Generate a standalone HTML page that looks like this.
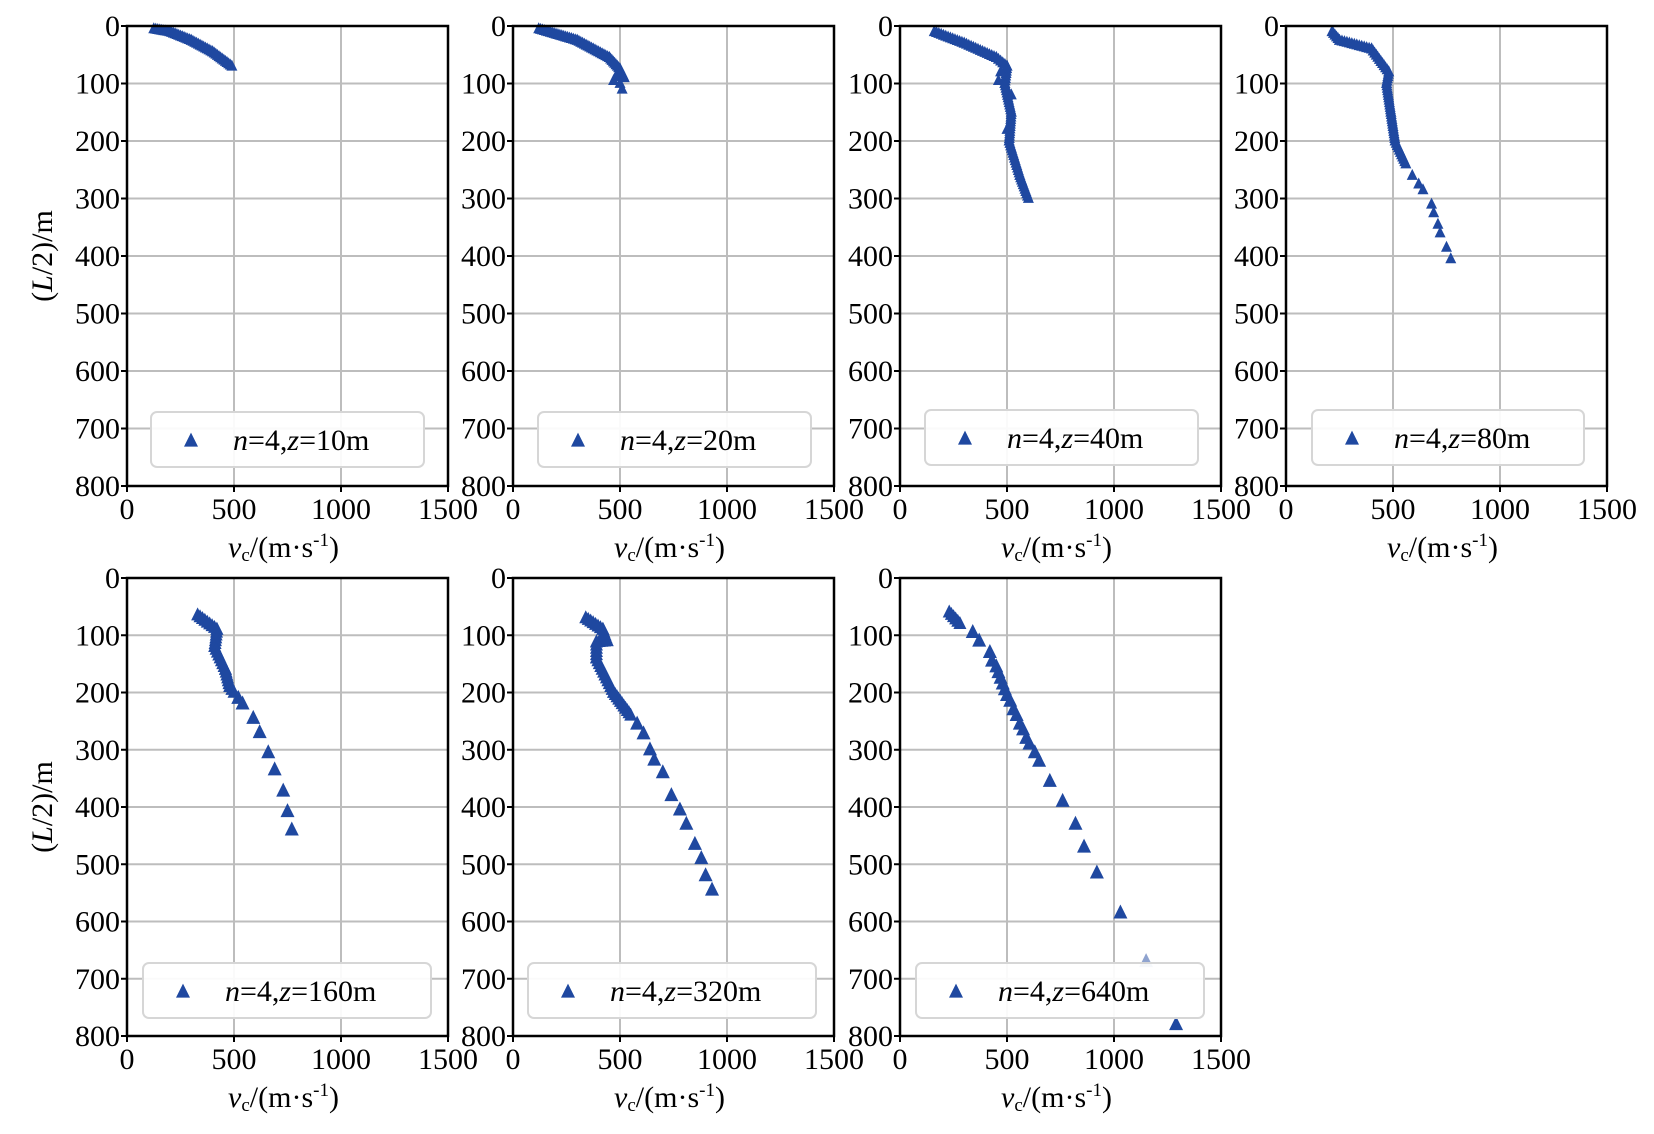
<!DOCTYPE html>
<html><head><meta charset="utf-8"><style>
html,body{margin:0;padding:0;background:#fff}
svg{display:block}
text{font-family:"Liberation Serif",serif;fill:#000}
</style></head><body>
<svg id="s" width="1654" height="1134" xmlns="http://www.w3.org/2000/svg"></svg>
<script>
const S=document.getElementById('s');let h='';
const T=26,TH=460,B=578,BH=458;
const panels=[
 {x:127,y:T,h:TH,z:'10m',lg:[151,412,273],pts:[[[125,5],[200,10],[300,25],[400,45],[490,70]],2]},
 {x:513,y:T,h:TH,z:'20m',lg:[538,412,273],pts:[[[120,5],[300,25],[450,55],[500,75],[520,90]],2],extra:[[480,88],[500,100],[510,110],[470,95]]},
 {x:900,y:T,h:TH,z:'40m',lg:[925,410,273],pts:[[[160,10],[300,30],[450,55],[500,70],[490,100],[520,150],[510,200],[560,260],[600,300]],2.5],extra:[[470,80],[460,95],[520,120],[500,180]]},
 {x:1286,y:T,h:TH,z:'80m',lg:[1312,410,272],pts:[[[215,10],[250,25],[400,40],[480,80],[470,100],[490,150],[510,200],[560,240]],2.5],extra:[[590,260],[620,275],[640,285],[680,310],[690,325],[710,345],[720,360],[750,385],[770,405]]},
 {x:127,y:B,h:BH,z:'160m',lg:[143,963,288],pts:[[[330,65],[420,90],[410,120],[460,160],[480,190],[500,200]],3],extra:[[520,210],[540,220],[590,245],[620,270],[660,305],[690,335],[730,372],[750,408],[770,440]]},
 {x:513,y:B,h:BH,z:'320m',lg:[528,963,288],pts:[[[340,70],[420,90],[440,110],[390,112],[390,140],[430,170],[470,200],[550,240]],3],extra:[[580,255],[610,272],[640,300],[660,318],[700,340],[740,380],[780,405],[810,430],[850,465],[880,490],[900,520],[930,545]]},
 {x:900,y:B,h:BH,z:'640m',lg:[916,963,288],pts:[[[230,60],[280,80]],3],extra:[[340,95],[370,110],[420,130],[430,145],[450,155],[460,165],[470,175],[480,185],[490,195],[500,205],[515,215],[530,230],[545,240],[560,255],[575,265],[590,280],[605,290],[630,305],[650,320],[700,355],[760,390],[820,430],[860,470],[920,515],[1030,585],[1150,670],[1290,780]]}
];
const W=321;
function tri(cx,cy,s,c){return `<polygon points="${cx},${cy-s*0.6} ${cx-s/2},${cy+s*0.4} ${cx+s/2},${cy+s*0.4}" fill="${c||'#1f48a0'}"/>`;}
panels.forEach((p,i)=>{
 const X=v=>p.x+v/1500*W, Y=l=>p.y+l/800*p.h;
 for(let k=1;k<8;k++){const y=Y(k*100);h+=`<line x1="${p.x}" x2="${p.x+W}" y1="${y}" y2="${y}" stroke="#bdbdbd" stroke-width="2"/>`;}
 for(let k=1;k<3;k++){const x=X(k*500);h+=`<line y1="${p.y}" y2="${p.y+p.h}" x1="${x}" x2="${x}" stroke="#bdbdbd" stroke-width="2"/>`;}
 const big=i>=4?13:11;
 const [poly,step]=p.pts;
 for(let j=0;j<poly.length-1;j++){
  const a=[X(poly[j][0]),Y(poly[j][1])],b=[X(poly[j+1][0]),Y(poly[j+1][1])];
  const d=Math.hypot(b[0]-a[0],b[1]-a[1]),n=Math.max(1,Math.round(d/step));
  for(let t=0;t<=n;t++)h+=tri(a[0]+(b[0]-a[0])*t/n,a[1]+(b[1]-a[1])*t/n,big);
 }
 (p.extra||[]).forEach(e=>{h+=tri(X(e[0]),Y(e[1]),big+(i>=4?1:0),(i==6&&e[0]==1150)?'#8fa3cf':null);});
 const [lx,ly,lw]=p.lg;
 h+=`<rect x="${lx}" y="${ly}" width="${lw}" height="55" rx="6" fill="#fff" fill-opacity="0.92" stroke="#d6d6d6" stroke-width="2"/>`;
 h+=tri(lx+40,ly+29,14);
 h+=`<text x="${lx+82}" y="${ly+38}" font-size="30"><tspan font-style="italic">n</tspan>=4,<tspan font-style="italic">z</tspan>=${p.z}</text>`;
 h+=`<rect x="${p.x}" y="${p.y}" width="${W}" height="${p.h}" fill="none" stroke="#000" stroke-width="2.5"/>`;
 for(let k=0;k<=8;k++){const y=Y(k*100);h+=`<line x1="${p.x-6}" x2="${p.x}" y1="${y}" y2="${y}" stroke="#000" stroke-width="2"/><text x="${p.x-7}" y="${y+10}" font-size="30" text-anchor="end">${k*100}</text>`;}
 for(let k=0;k<=3;k++){const x=X(k*500);h+=`<line y1="${p.y+p.h}" y2="${p.y+p.h+6}" x1="${x}" x2="${x}" stroke="#000" stroke-width="2"/><text x="${x}" y="${p.y+p.h+33}" font-size="30" text-anchor="middle">${k*500}</text>`;}
 const cx=p.x+W/2;
 h+=`<text x="${cx-4}" y="${p.y+p.h+71}" font-size="30" text-anchor="middle"><tspan font-style="italic">v</tspan><tspan font-size="19" dy="4">c</tspan><tspan dy="-4">/(m·s</tspan><tspan font-size="19" dy="-11">-1</tspan><tspan dy="11">)</tspan></text>`;
 if(p.x==127){const yc=p.y+p.h/2;h+=`<text transform="translate(52,${yc}) rotate(-90)" font-size="30" text-anchor="middle">(<tspan font-style="italic">L</tspan>/2)/m</text>`;}
});
S.innerHTML=h;
</script>
</body></html>
